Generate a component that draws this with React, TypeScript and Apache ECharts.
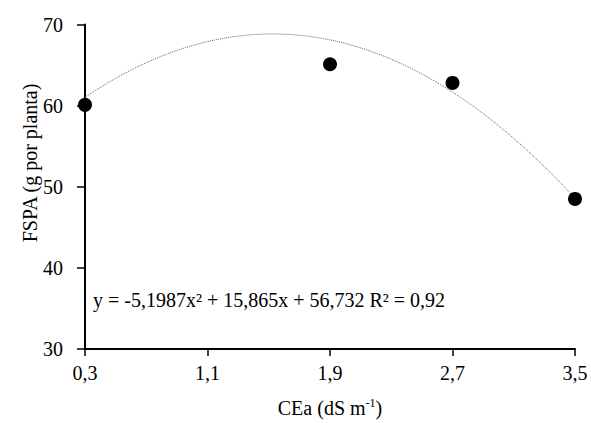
import React, { useEffect, useRef } from "react";
import * as echarts from "echarts";

const xValues = [0.3, 1.9, 2.7, 3.5];
const yValues = [60.1, 65.1, 62.8, 48.5];
const xTicks = [0.3, 1.1, 1.9, 2.7, 3.5];
// regression coefficients shown in the chart: y = a x^2 + b x + c
const coefA = -5.1987;
const coefB = 15.865;
const coefC = 56.732;
const equationText = "y = -5,1987x² + 15,865x + 56,732 R² = 0,92";
const yTitle = "FSPA (g por planta)";

const FONT = "Times New Roman";

export default function App() {
  const ref = useRef<HTMLDivElement>(null);
  useEffect(() => {
    if (!ref.current) return;
    const chart = echarts.init(ref.current, undefined, { renderer: "svg" });
    const trend: number[][] = [];
    const n = 80;
    const x0 = xTicks[0];
    const x1 = xTicks[xTicks.length - 1];
    for (let i = 0; i <= n; i++) {
      const x = x0 + ((x1 - x0) * i) / n;
      trend.push([x, coefA * x * x + coefB * x + coefC]);
    }
    chart.setOption({
      animation: false,
      textStyle: { fontFamily: FONT },
      grid: { left: 85, right: 16, top: 24.5, bottom: 68, containLabel: false },
      xAxis: {
        type: "value",
        min: x0,
        max: x1,
        interval: 0.8,
        axisLine: { lineStyle: { color: "#000", width: 2 } },
        axisTick: { show: true, length: 7, lineStyle: { color: "#000", width: 1.5 } },
        splitLine: { show: false },
        axisLabel: {
          color: "#000",
          fontFamily: FONT,
          fontSize: 20,
          margin: 14,
          formatter: (v: number) => v.toFixed(1).replace(".", ","),
        },
        name: "{a|CEa (dS m}{s|-1}{a|)}",
        nameLocation: "middle",
        nameGap: 48,
        nameTextStyle: {
          fontFamily: FONT,
          rich: {
            a: { fontFamily: FONT, fontSize: 20, color: "#000" },
            s: { fontFamily: FONT, fontSize: 12, color: "#000", padding: [0, 0, 10, 0] },
          },
        },
      },
      yAxis: {
        type: "value",
        min: 30,
        max: 70,
        interval: 10,
        axisLine: { show: true, lineStyle: { color: "#000", width: 2 } },
        axisTick: { show: true, length: 8, lineStyle: { color: "#000", width: 1.5 } },
        splitLine: { show: false },
        axisLabel: { color: "#000", fontFamily: FONT, fontSize: 20, margin: 22 },
      },
      graphic: [
        {
          type: "text",
          x: 30,
          y: 163,
          rotation: Math.PI / 2,
          style: {
            text: yTitle,
            fontFamily: FONT,
            fontSize: 20,
            fill: "#000",
            align: "center",
            verticalAlign: "middle",
          },
        },
        {
          type: "text",
          x: 93,
          y: 300,
          style: {
            text: equationText,
            fontFamily: FONT,
            fontSize: 20,
            fill: "#000",
            align: "left",
            verticalAlign: "middle",
          },
        },
      ],
      series: [
        {
          type: "line",
          data: trend,
          showSymbol: false,
          symbol: "none",
          smooth: false,
          lineStyle: { color: "#666", width: 1, type: "dotted" },
          z: 1,
        },
        {
          type: "scatter",
          data: xValues.map((x, i) => [x, yValues[i]]),
          symbol: "circle",
          symbolSize: 14,
          itemStyle: { color: "#000", opacity: 1 },
          z: 3,
        },
      ],
    });
    return () => chart.dispose();
  }, []);
  return (
    <div
      ref={ref}
      style={{ position: "fixed", left: 0, top: 0, width: 591, height: 423, background: "#fff" }}
    />
  );
}
